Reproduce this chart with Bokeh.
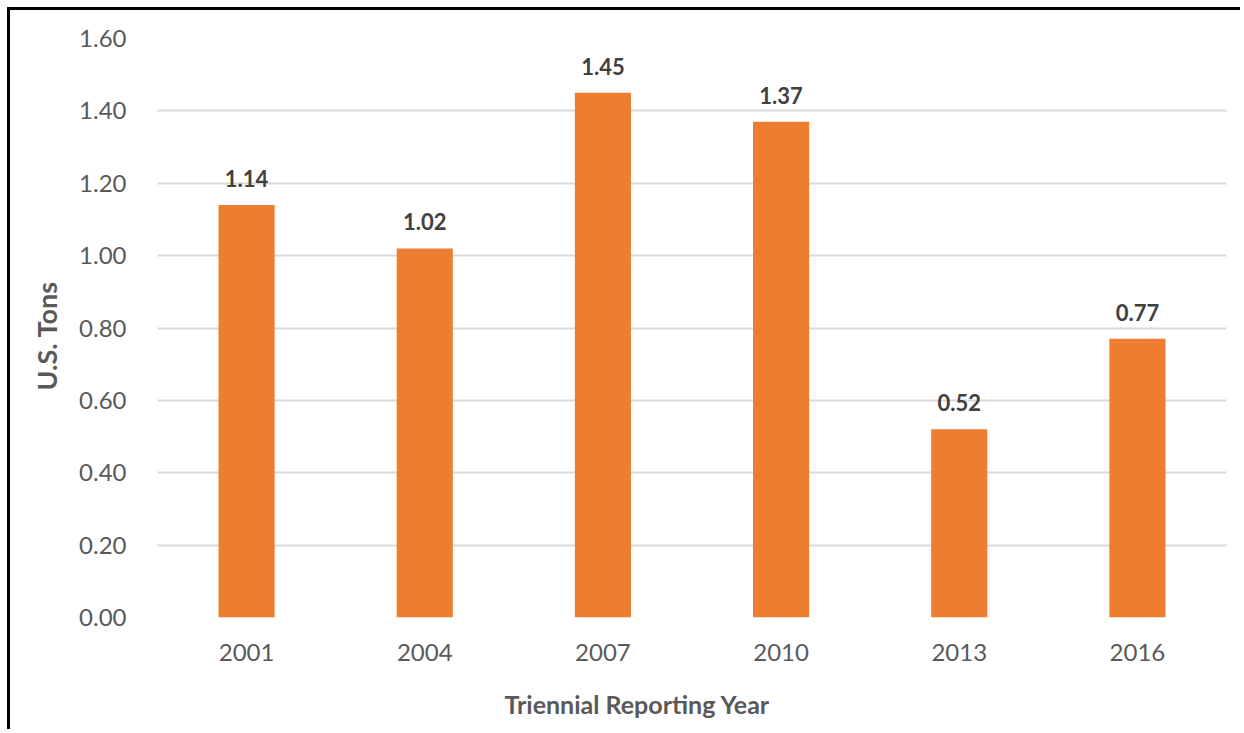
from bokeh.plotting import figure
from bokeh.models import ColumnDataSource, LabelSet, Title, FactorRange, FixedTicker, PrintfTickFormatter
from bokeh.core.properties import value
from bokeh.embed import file_html
from bokeh.resources import INLINE

# ---- data ----
years = ["2001", "2004", "2007", "2010", "2013", "2016"]
tons = [1.14, 1.02, 1.45, 1.37, 0.52, 0.77]
y_ticks = [0.0, 0.2, 0.4, 0.6, 0.8, 1.0, 1.2, 1.4, 1.6]
y_title = "U.S. Tons"
x_title = "Triennial Reporting Year"

FONT = "Lato"
TICK_COLOR = "#595959"
LABEL_COLOR = "#404040"
BAR_COLOR = "#ED7D31"

src = ColumnDataSource(dict(year=years, tons=tons, label=[f"{v:.2f}" for v in tons]))

p = figure(
    x_range=FactorRange(*years, range_padding=0),
    y_range=(y_ticks[0], y_ticks[-1]),
    width=1233, height=722,
    output_backend="svg", toolbar_location=None,
    min_border_left=147, min_border_right=17,
    min_border_top=28, min_border_bottom=115,
)
p.styles = {"margin-left": "7px", "margin-top": "7px",
            "border-top": "3px solid black", "border-left": "3px solid black"}
p.outline_line_color = None
p.background_fill_color = "white"
p.border_fill_color = "white"

p.vbar(x="year", top="tons", width=0.315, source=src, fill_color=BAR_COLOR, line_color=None)

labels = LabelSet(x="year", y="tons", text="label", source=src, y_offset=18,
                  text_align="center", text_baseline="alphabetic",
                  text_font=value(FONT), text_font_size=value("22px"), text_font_style="bold",
                  text_color=LABEL_COLOR)
p.add_layout(labels)

p.xgrid.grid_line_color = None
p.ygrid.grid_line_color = "#d9d9d9"
p.ygrid.grid_line_width = 2

p.yaxis.ticker = FixedTicker(ticks=y_ticks)
p.yaxis.formatter = PrintfTickFormatter(format="%.2f")
for ax in (p.xaxis, p.yaxis):
    ax.axis_line_color = None
    ax.major_tick_line_color = None
    ax.minor_tick_line_color = None
    ax.major_label_text_font = FONT
    ax.major_label_text_font_size = "24px"
    ax.major_label_text_color = TICK_COLOR
p.yaxis.major_label_standoff = 25
p.xaxis.major_label_standoff = 20

# blank spacer label under the x tick labels so the title can sit lower
p.xaxis.axis_label = " "
p.xaxis.axis_label_standoff = 13
p.xaxis.axis_label_text_font_size = "2px"

xt = Title(text=x_title, align="left", offset=347, standoff=10,
           text_font=FONT, text_font_size="25px", text_font_style="bold",
           text_color=TICK_COLOR)
p.add_layout(xt, "below")
yt = Title(text=y_title, align="left", offset=227, standoff=28,
           text_font=FONT, text_font_size="27px", text_font_style="bold",
           text_color=TICK_COLOR)
p.add_layout(yt, "left")

open("out.html", "w").write(file_html(p, INLINE))
